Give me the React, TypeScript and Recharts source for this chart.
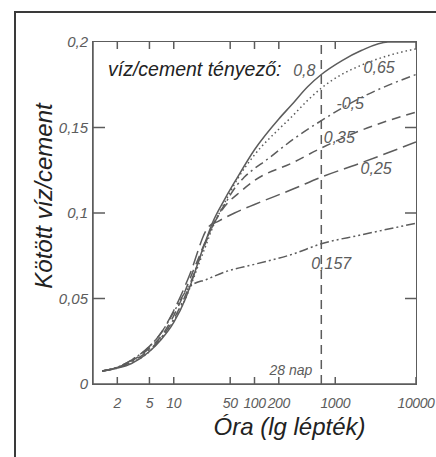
import React from "react";
import { LineChart, Line, XAxis, YAxis, ReferenceLine, ReferenceDot, Label } from "recharts";

const INK = "#5c5c5c";
const FONT = "'Liberation Sans', Arial, sans-serif";

// x: hours (log scale), y: bound water / cement
const H_080 = [1.3, 2, 3, 5, 7, 10, 14, 17, 20, 25, 30, 42.7, 60, 100, 200, 285, 458, 672, 1200, 2100, 4500, 10000];
const V_080 = [0.0076, 0.0093, 0.012, 0.019, 0.026, 0.036, 0.05, 0.061, 0.071, 0.084, 0.094, 0.108, 0.12, 0.137, 0.155, 0.163, 0.174, 0.181, 0.189, 0.195, 0.2, 0.2];

const H_065 = [1.3, 2, 3, 5, 7, 10, 14, 17, 20, 25, 30, 42.7, 60, 100, 200, 285, 458, 672, 1200, 2000, 4500, 10000];
const V_065 = [0.0076, 0.0093, 0.0125, 0.019, 0.027, 0.037, 0.05, 0.06, 0.069, 0.081, 0.091, 0.106, 0.119, 0.134, 0.149, 0.156, 0.166, 0.173, 0.181, 0.186, 0.192, 0.196];

const H_050 = [1.3, 2, 3, 5, 7, 10, 14, 17, 20, 25, 30, 42.7, 60, 75, 150, 300, 672, 2000, 10000];
const V_050 = [0.0076, 0.0095, 0.013, 0.02, 0.027, 0.038, 0.052, 0.062, 0.071, 0.083, 0.092, 0.105, 0.116, 0.121, 0.132, 0.143, 0.154, 0.167, 0.181];

const H_035 = [1.3, 2, 3, 5, 7, 10, 14, 17, 20, 25, 30, 40, 69, 100, 300, 672, 2000, 10000];
const V_035 = [0.0076, 0.0097, 0.0135, 0.021, 0.028, 0.04, 0.055, 0.065, 0.073, 0.084, 0.092, 0.102, 0.113, 0.119, 0.1295, 0.138, 0.148, 0.159];

const H_025 = [1.3, 2, 3, 5, 7, 10, 14, 17, 20, 23, 27, 35, 56.6, 100, 300, 672, 2000, 10000];
const V_025 = [0.0076, 0.0098, 0.014, 0.022, 0.03, 0.043, 0.058, 0.068, 0.078, 0.086, 0.092, 0.095, 0.1, 0.105, 0.114, 0.121, 0.129, 0.1415];

const H_0157 = [1.3, 2, 3, 5, 7, 10, 14, 17, 25, 42.7, 100, 300, 672, 2000, 10000];
const V_0157 = [0.0076, 0.0098, 0.014, 0.022, 0.03, 0.042, 0.054, 0.058, 0.061, 0.0655, 0.07, 0.076, 0.082, 0.087, 0.094];

const X_TICKS = [2, 5, 10, 50, 100, 200, 1000, 10000];
const Y_TICKS = [0, 0.05, 0.1, 0.15, 0.2];

// chart layout
const W = 436;
const H = 457;
const M = { top: 42, right: 20, bottom: 0, left: 0 };
const Y_AXIS_W = 93;
const X_AXIS_H = 73;
const PLOT_W = W - M.left - M.right - Y_AXIS_W;
const PLOT_H = H - M.top - M.bottom - X_AXIS_H;

const zip = (h: number[], v: number[]) => h.map((x, i) => ({ h: x, v: v[i] }));

const SERIES = [
  { name: "0,8", data: zip(H_080, V_080), dash: undefined, lx: 414, ly: 0.1836, sign: "" },
  { name: "0,65", data: zip(H_065, V_065), dash: "1.5 3", lx: 3494, ly: 0.1854, sign: "" },
  { name: "0,5", data: zip(H_050, V_050), dash: "9 4 2 4", lx: 1531, ly: 0.1643, sign: "-" },
  { name: "0,35", data: zip(H_035, V_035), dash: "9 6", lx: 1121, ly: 0.1444, sign: "" },
  { name: "0,25", data: zip(H_025, V_025), dash: "15 6", lx: 3206, ly: 0.1263, sign: "" },
  { name: "0,157", data: zip(H_0157, V_0157), dash: "9 3 2 3 2 3", lx: 892, ly: 0.0708, sign: "" },
];

const fmtY = (v: number) => (v === 0 ? "0" : String(v).replace(".", ","));

// bottom ticks also draw the matching inward ticks on the top edge
function BottomTick({ x, y, payload }: any) {
  const top = y - PLOT_H;
  return (
    <g>
      <line x1={x} x2={x} y1={y} y2={y - 7} stroke={INK} strokeWidth={1.5} />
      <line x1={x} x2={x} y1={top} y2={top + 7} stroke={INK} strokeWidth={1.5} />
      <text
        x={x} y={y + 24} textAnchor="middle" fill={INK} fontSize={14} letterSpacing={-0.4}
        fontStyle="italic" fontFamily={FONT}
      >
        {payload.value}
      </text>
    </g>
  );
}

// left ticks also draw the inward ticks on the right edge
function LeftTick({ x, y, payload }: any) {
  const inner = payload.value > 0 && payload.value < 0.2;
  const right = x + PLOT_W;
  return (
    <g>
      {inner && <line x1={x} x2={x + 12} y1={y} y2={y} stroke={INK} strokeWidth={1.5} />}
      {inner && <line x1={right - 11} x2={right} y1={y} y2={y} stroke={INK} strokeWidth={1.5} />}
      <text x={x - 5} y={y + 5} textAnchor="end" fill={INK} fontSize={15} fontStyle="italic" fontFamily={FONT}>
        {fmtY(payload.value)}
      </text>
    </g>
  );
}

function YTitle({ viewBox }: any) {
  const cx = viewBox.x + 43;
  const cy = viewBox.y + viewBox.height / 2 - 17;
  return (
    <text
      x={cx} y={cy} transform={`rotate(-90, ${cx}, ${cy})`} textAnchor="middle" dominantBaseline="central"
      fill="#222" fontSize={24} fontStyle="italic" fontFamily={FONT}
    >
      Kötött víz/cement
    </text>
  );
}

export default function App() {
  return (
    <div style={{ position: "absolute", left: 0, top: 0, width: W, height: H, background: "#fff", overflow: "hidden" }}>
      {/* scanned page frame */}
      <div
        style={{
          position: "absolute", left: 14, top: 11, width: 440, height: 460,
          borderLeft: "2px solid #3a3a3a", borderTop: "2px solid #3a3a3a",
        }}
      />
      <div
        style={{
          position: "absolute", left: 108, top: 58, fontFamily: FONT, fontStyle: "italic",
          fontSize: 19.5, color: "#222", whiteSpace: "nowrap", lineHeight: "22px",
        }}
      >
        víz/cement tényező:
      </div>
      <LineChart width={W} height={H} margin={M} style={{ position: "absolute", left: 0, top: 0 }}>
        <XAxis
          dataKey="h" type="number" scale="log" domain={[1, 10000]} ticks={X_TICKS}
          allowDataOverflow height={X_AXIS_H} tickSize={0} tickMargin={0} tickLine={false}
          axisLine={{ stroke: INK, strokeWidth: 1.5 }} tick={<BottomTick />} interval={0}
        >
          <Label value="Óra (lg lépték)" position="insideBottom" offset={22} fill="#222" fontSize={24} fontStyle="italic" fontFamily={FONT} dx={35} />
        </XAxis>
        <YAxis
          type="number" domain={[0, 0.2]} ticks={Y_TICKS} width={Y_AXIS_W} tickSize={0} tickMargin={0}
          tickLine={false} axisLine={{ stroke: INK, strokeWidth: 1.5 }} tick={<LeftTick />} interval={0}
        >
          <Label content={<YTitle />} />
        </YAxis>

        <ReferenceLine
          x={672} stroke={INK} strokeWidth={1.5} strokeDasharray="9 6"
          label={{ value: "28 nap", position: "insideBottomRight", offset: 9, fill: INK, fontSize: 14, fontStyle: "italic", fontFamily: FONT }}
        />
        {SERIES.map((s) => (
          <Line
            key={s.name} data={s.data} dataKey="v" type="monotone"
            stroke={INK} strokeWidth={1.5} strokeDasharray={s.dash} dot={false} isAnimationActive={false}
          />
        ))}
        {SERIES.map((s) => (
          <ReferenceDot
            key={"l" + s.name} x={s.lx} y={s.ly} r={0} stroke="none" fill="none"
            label={{ value: s.sign + s.name, position: "center", fill: INK, fontSize: 16, fontStyle: "italic", fontFamily: FONT }}
          />
        ))}
      </LineChart>
      {/* plot box, laid over the chart from the same layout constants */}
      <div
        style={{
          position: "absolute", left: M.left + Y_AXIS_W - 0.75, top: M.top - 0.75,
          width: PLOT_W, height: PLOT_H, boxSizing: "content-box",
          border: `1.5px solid ${INK}`, pointerEvents: "none",
        }}
      />
    </div>
  );
}
